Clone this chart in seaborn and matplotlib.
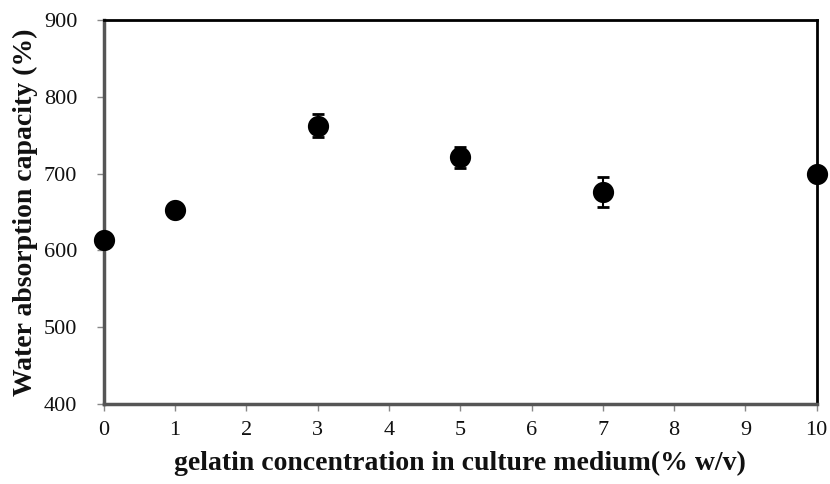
import numpy as np
import matplotlib.pyplot as plt
import seaborn as sns

gelatin = [0, 1, 3, 5, 7, 10]
absorption = [613, 653, 762, 721, 676, 700]
err = [4, 4, 15, 14, 19, 4]

sns.set_style("white")
plt.rcParams['font.family'] = ['Liberation Serif', 'DejaVu Serif']
plt.rcParams['text.color'] = '#111111'
plt.rcParams['axes.labelcolor'] = '#111111'
plt.rcParams['xtick.color'] = '#111111'
plt.rcParams['ytick.color'] = '#111111'

fig, ax = plt.subplots(figsize=(8.3, 4.84), dpi=100)
ax.errorbar(gelatin, absorption, yerr=err, fmt='none', ecolor='black',
            elinewidth=1.5, capsize=4, capthick=2, zorder=2)
sns.scatterplot(x=gelatin, y=absorption, s=200, color='black',
                edgecolor='black', ax=ax, zorder=3, clip_on=False)

ax.set_xlim(0, 10)
ax.set_ylim(400, 900)
ax.set_xticks(range(0, 11))
ax.set_yticks(range(400, 901, 100))
ax.tick_params(axis='both', labelsize=16, direction='out', length=5,
               width=1, color='#888888', bottom=True, left=True)
ax.tick_params(axis='x', pad=7)
ax.tick_params(axis='y', pad=14)

for side in ['top', 'right']:
    ax.spines[side].set_color('black')
    ax.spines[side].set_linewidth(2)
for side in ['left', 'bottom']:
    ax.spines[side].set_color('#555555')
    ax.spines[side].set_linewidth(2.5)

ax.set_xlabel("gelatin concentration in culture medium(% w/v)",
              fontsize=20, fontweight='bold', labelpad=8)
ax.set_ylabel("Water absorption capacity (%)",
              fontsize=20, fontweight='bold', labelpad=4)

fig.subplots_adjust(left=0.125, right=0.984, top=0.959, bottom=0.165)
fig.savefig("out.png", dpi=100)
